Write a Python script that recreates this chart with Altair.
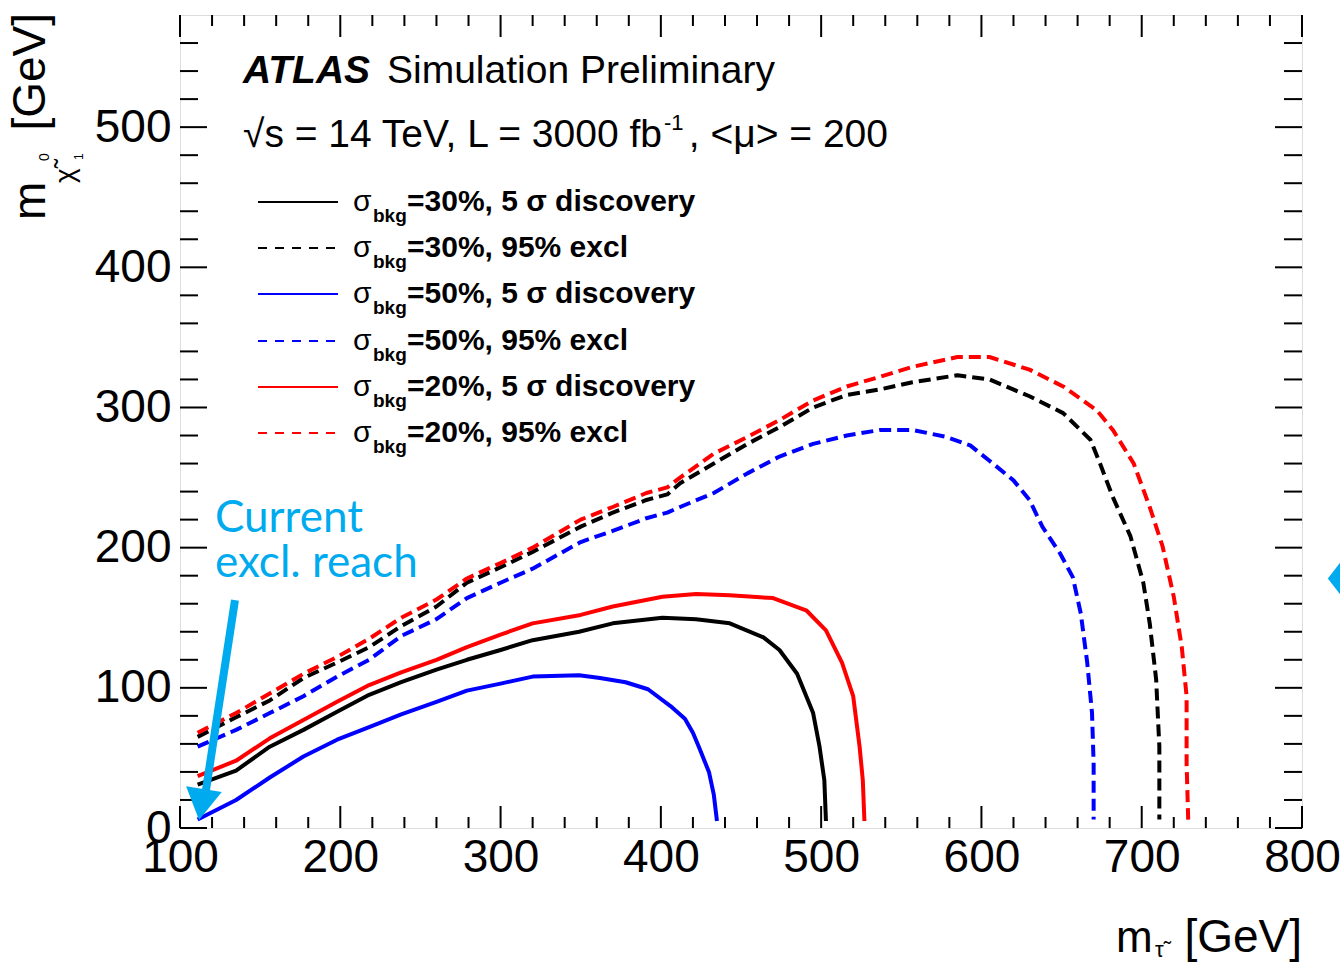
import altair as alt
import pandas as pd

# ---------------- data ----------------
black_disc_x = [111, 135, 156, 177, 198, 218, 238, 260, 279, 300, 320, 349, 370, 401, 422, 443, 464, 474, 485, 495, 499, 502, 503]
black_disc_y = [31, 41, 58, 70, 83, 95, 104, 113, 120, 127, 134, 140, 146, 150, 149, 146, 136, 127, 110, 82, 58, 34, 5]

black_excl_x = [111, 135, 156, 177, 198, 218, 238, 260, 279, 300, 320, 350, 370, 391, 404, 412, 433, 454, 474, 495, 516, 537, 557, 585, 605, 630, 651, 668, 674, 682, 693, 701, 705, 709, 711, 711]
black_excl_y = [65, 79, 91, 107, 118, 129, 144, 158, 175, 186, 197, 215, 225, 234, 238, 246, 260, 274, 286, 300, 309, 313, 318, 323, 320, 308, 296, 277, 260, 236, 208, 175, 146, 106, 58, 6]

blue_disc_x = [111, 135, 156, 177, 198, 218, 238, 260, 279, 300, 320, 349, 362, 378, 392, 406, 415, 420, 424, 430, 433, 435]
blue_disc_y = [6, 20, 36, 51, 63, 72, 81, 90, 98, 103, 108, 109, 107, 104, 99, 87, 78, 68, 57, 40, 24, 5]

blue_excl_x = [111, 135, 156, 177, 198, 218, 238, 260, 279, 300, 320, 350, 370, 391, 404, 412, 433, 454, 474, 495, 516, 537, 557, 578, 593, 605, 620, 630, 638, 649, 657, 662, 666, 669, 670, 670]
blue_excl_y = [58, 70, 82, 94, 108, 120, 137, 149, 164, 175, 185, 204, 212, 221, 225, 229, 239, 253, 265, 274, 280, 284, 284, 279, 273, 262, 248, 234, 215, 196, 179, 153, 118, 82, 46, 6]

red_disc_x = [111, 135, 156, 177, 198, 218, 238, 260, 279, 300, 320, 350, 370, 401, 422, 443, 470, 491, 503, 513, 520, 524, 526, 527]
red_disc_y = [37, 48, 64, 77, 90, 102, 111, 120, 129, 138, 146, 152, 158, 165, 167, 166, 164, 155, 141, 118, 94, 58, 34, 5]

red_excl_x = [111, 135, 156, 177, 198, 218, 238, 260, 279, 300, 320, 350, 370, 391, 404, 412, 433, 454, 474, 495, 516, 537, 557, 585, 605, 630, 651, 672, 682, 695, 705, 713, 720, 725, 728, 728, 729]
red_excl_y = [68, 82, 96, 110, 122, 135, 150, 163, 178, 189, 200, 220, 229, 239, 243, 250, 267, 279, 291, 305, 315, 322, 329, 336, 336, 327, 315, 298, 284, 260, 229, 201, 165, 129, 94, 46, 6]

series_names = ["30% disc", "30% excl", "50% disc", "50% excl", "20% disc", "20% excl"]
series_colors = ["#000000", "#000000", "#0000FF", "#0000FF", "#FF0000", "#FF0000"]
series_styles = ["solid", "dashed", "solid", "dashed", "solid", "dashed"]
series_xs = [black_disc_x, black_excl_x, blue_disc_x, blue_excl_x, red_disc_x, red_excl_x]
series_ys = [black_disc_y, black_excl_y, blue_disc_y, blue_excl_y, red_disc_y, red_excl_y]

legend_pct = ["30%", "30%", "50%", "50%", "20%", "20%"]
legend_kind = ["5 σ discovery", "95% excl", "5 σ discovery", "95% excl", "5 σ discovery", "95% excl"]

x_major = [100, 200, 300, 400, 500, 600, 700, 800]
y_major = [0, 100, 200, 300, 400, 500]
x_minor = [v for v in range(100, 801, 20) if v % 100 != 0]
y_minor = [v for v in range(20, 580, 20) if v % 100 != 0]

# annotation arrow (data coordinates)
arrow_start = (134.3, 162.6)
arrow_end = (116.2, 27.0)
arrow_head = (113.4, 16.7)
edge_marker = (825.5, 178)

XMIN, XMAX, YMIN, YMAX = 100, 800, 0, 580
W, H = 1122, 813
FONT = "Liberation Sans"
CYAN = "#00AAEE"

xs = alt.Scale(domain=[XMIN, XMAX], nice=False, zero=False)
ys = alt.Scale(domain=[YMIN, YMAX], nice=False, zero=False)

rows = []
for name, col, sty, xv, yv in zip(series_names, series_colors, series_styles, series_xs, series_ys):
    for i, (a, b) in enumerate(zip(xv, yv)):
        rows.append({"series": name, "style": sty, "x": a, "y": b, "i": i})
df = pd.DataFrame(rows)

layers = []

# contour lines
for name, col, sty in zip(series_names, series_colors, series_styles):
    sub = df[df.series == name]
    props = dict(color=col, strokeWidth=4, strokeJoin="round")
    if sty == "dashed":
        props["strokeDash"] = [12, 6]
    layers.append(
        alt.Chart(sub).mark_line(**props).encode(
            x=alt.X("x:Q", scale=xs, axis=alt.Axis(values=x_major, title=None, ticks=False, tickSize=0,
                                                     domain=False, grid=False, labelFontSize=46, labelFont=FONT,
                                                     labelColor="black", labelPadding=7, labelFlush=False,
                                                     labelOverlap=False)),
            y=alt.Y("y:Q", scale=ys, axis=alt.Axis(values=y_major, title=None, ticks=False, tickSize=0,
                                                     domain=False, grid=False, labelFontSize=46, labelFont=FONT,
                                                     labelColor="black", labelPadding=9, labelFlush=False,
                                                     labelOverlap=False)),
            order="i:Q",
        )
    )

# inward ticks (ROOT style) on all four sides
def tick_layer(vals, orient, side, length_units):
    d = pd.DataFrame({"v": vals})
    if orient == "x":
        y0 = YMIN if side == "low" else YMAX
        y1 = y0 + length_units if side == "low" else y0 - length_units
        return alt.Chart(d).mark_rule(color="black", strokeWidth=2).encode(
            x=alt.X("v:Q", scale=xs), y=alt.datum(y0), y2=alt.datum(y1))
    else:
        x0 = XMIN if side == "low" else XMAX
        x1 = x0 + length_units if side == "low" else x0 - length_units
        return alt.Chart(d).mark_rule(color="black", strokeWidth=2).encode(
            y=alt.Y("v:Q", scale=ys), x=alt.datum(x0), x2=alt.datum(x1))

px_x = W / (XMAX - XMIN)
px_y = H / (YMAX - YMIN)
for side in ["low", "high"]:
    layers.append(tick_layer(x_major, "x", side, 22 / px_y))
    layers.append(tick_layer(x_minor, "x", side, 11 / px_y))
    layers.append(tick_layer(y_major, "y", side, 27 / px_x))
    layers.append(tick_layer(y_minor, "y", side, 18 / px_x))

one = pd.DataFrame({"k": [0]})


def txt(text, x, y, size, weight="normal", style="normal", align="left", baseline="alphabetic",
        angle=0, color="black", font=FONT):
    return alt.Chart(one).mark_text(text=text, fontSize=size, fontWeight=weight, fontStyle=style,
                                    align=align, baseline=baseline, angle=angle, color=color,
                                    font=font).encode(x=alt.value(x), y=alt.value(y))


# ATLAS label
layers.append(txt("ATLAS", 63, 68, 39, weight="bold", style="italic"))
layers.append(txt("Simulation Preliminary", 207, 68, 39))
layers.append(txt("√s = 14 TeV, L = 3000 fb", 63, 132, 39))
layers.append(txt("-1", 484, 115, 22))
layers.append(txt(", <μ> = 200", 708, 132, 39, align="right"))

# legend
row_y = [187, 233, 279, 326, 372, 418]
for k in range(6):
    ry = row_y[k]
    rprops = dict(color=series_colors[k], strokeWidth=2)
    if series_styles[k] == "dashed":
        rprops["strokeDash"] = [9, 8]
    layers.append(alt.Chart(one).mark_rule(**rprops).encode(
        x=alt.value(78), x2=alt.value(158), y=alt.value(ry)))
    layers.append(txt("σ", 173, ry + 9, 30))
    layers.append(txt("bkg", 193, ry + 20, 19, weight="bold"))
    layers.append(txt("=" + legend_pct[k] + ", " + legend_kind[k], 227, ry + 9, 30, weight="bold"))

# axis titles
layers.append(txt("m", -135, 205, 46, angle=270))
layers.append(txt("[GeV]", -135, -2, 46, angle=270, align="right"))
layers.append(txt("χ\u0303", -106, 168, 28, angle=270))
layers.append(txt("0", -131, 146, 14, angle=270))
layers.append(txt("1", -97, 145, 12, angle=270))

layers.append(txt("[GeV]", 1122, 937, 46, align="right"))
layers.append(txt("m", 936, 937, 44))
layers.append(txt("τ\u0303", 975, 942, 22))

# annotation
layers.append(txt("Current", 35, 517, 44, color=CYAN, font="Lato"))
layers.append(txt("excl. reach", 35, 562, 44, color=CYAN, font="Lato"))

arr = pd.DataFrame({"x": [arrow_start[0]], "y": [arrow_start[1]],
                    "x2": [arrow_end[0]], "y2": [arrow_end[1]]})
layers.append(alt.Chart(arr).mark_rule(color=CYAN, strokeWidth=8).encode(
    x=alt.X("x:Q", scale=xs), y=alt.Y("y:Q", scale=ys), x2="x2:Q", y2="y2:Q"))
head = pd.DataFrame({"x": [arrow_head[0]], "y": [arrow_head[1]]})
layers.append(alt.Chart(head).mark_point(shape="triangle-down", size=1300, filled=True, opacity=1,
                                         color=CYAN, angle=9).encode(
    x=alt.X("x:Q", scale=xs), y=alt.Y("y:Q", scale=ys)))
edge = pd.DataFrame({"x": [edge_marker[0]], "y": [edge_marker[1]]})
layers.append(alt.Chart(edge).mark_point(shape="M-1,0L0,-1.3L0,1.3Z", size=900, filled=True, opacity=1,
                                         color=CYAN).encode(
    x=alt.X("x:Q", scale=xs), y=alt.Y("y:Q", scale=ys)))

chart = alt.layer(*layers).properties(
    width=W, height=H,
    autosize=alt.AutoSizeParams(type="none"),
    padding={"left": 180, "top": 15, "right": 38, "bottom": 136},
).configure_view(stroke="black", strokeWidth=2.5).configure(background="white")

chart.save("out.html", embed_options={"renderer": "svg", "actions": False})
